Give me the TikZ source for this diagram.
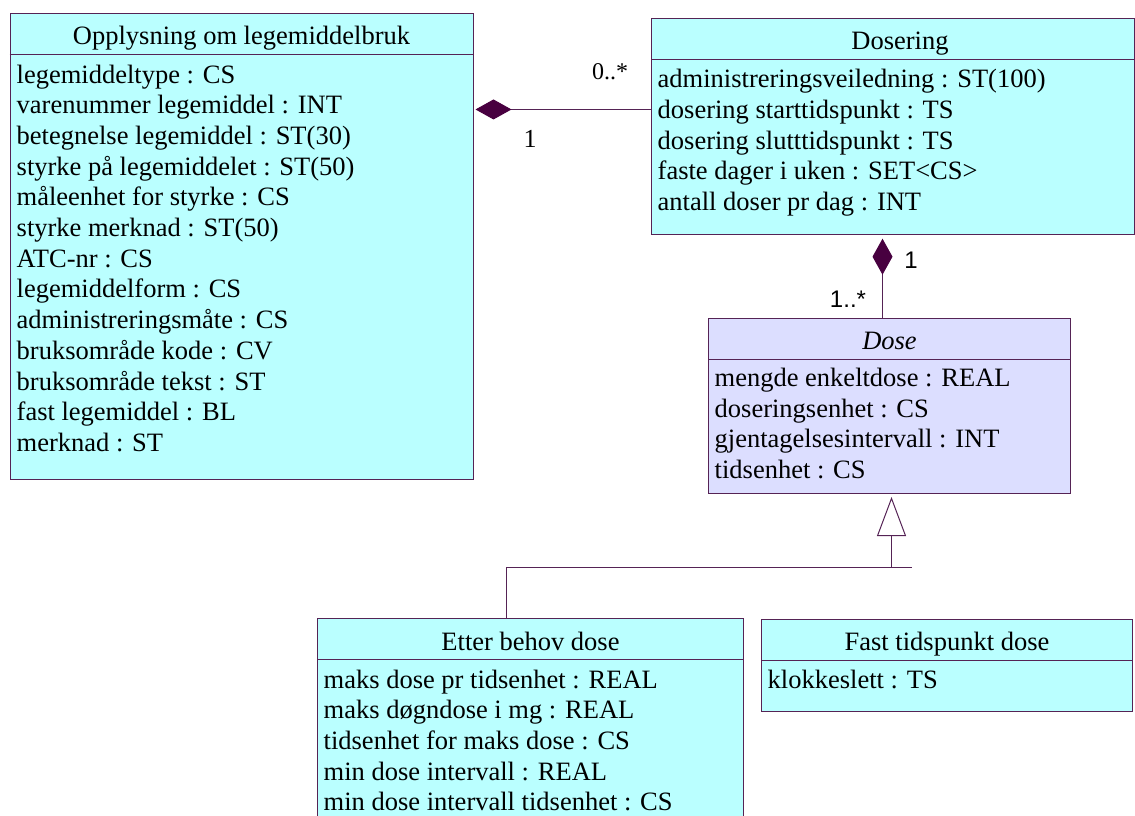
\documentclass[tikz,border=0pt]{standalone}
\usepackage{fontspec}
\setmainfont{Liberation Serif}
\newfontfamily\arialfont{Liberation Sans}
\usetikzlibrary{arrows.meta}
\definecolor{kant}{RGB}{85,35,85}
\definecolor{lysblaa}{RGB}{186,255,255}
\definecolor{lilla}{RGB}{220,222,255}
\definecolor{rombe}{RGB}{72,0,64}
\newcommand\umlfont{\fontsize{26.5}{30.7}\selectfont}

\tikzset{
  klasse/.style={draw=kant, fill=lysblaa, line width=1pt, inner sep=0pt, anchor=north west},
  tittel/.style={anchor=base, inner sep=0pt, font=\umlfont},
  attributter/.style={anchor=north west, align=left, inner sep=0pt, font=\umlfont},
  linje/.style={draw=kant, line width=1pt},
  komp/.style={linje, -{Diamond[length=36pt, width=20pt, color=rombe, fill=rombe]}},
  arv/.style={linje, -{Triangle[length=39pt, width=29pt, fill=white]}},
  mult/.style={anchor=base, inner sep=0pt},
}

\begin{document}
\begin{tikzpicture}[x=1pt,y=-1pt]
\useasboundingbox (0,0) rectangle (1135,816);
\clip (0,0) rectangle (1135,816);

% klasser
\node[klasse, minimum width=463pt, minimum height=466pt] (opp) at (9.5,13) {};
\node[klasse, minimum width=483pt, minimum height=216.5pt] (dos) at (651,17.7) {};
\node[klasse, fill=lilla, minimum width=362pt, minimum height=175pt] (dose) at (708,318) {};
\node[klasse, minimum width=426pt, minimum height=220pt] (etter) at (317,618) {};
\node[klasse, minimum width=371pt, minimum height=92pt] (fast) at (761,619) {};
\foreach \k in {opp,dos,dose,etter,fast}
  \draw[linje] ([yshift=-41.5pt]\k.north west) -- ([yshift=-41.5pt]\k.north east);

\node[tittel] (opptittel) at ([yshift=-32pt]opp.north) {Opplysning om legemiddelbruk};
\node[attributter] (oppattr) at ([xshift=7pt,yshift=-51.5pt]opp.north west) {legemiddeltype : CS\\
varenummer legemiddel : INT\\
betegnelse legemiddel : ST(30)\\
styrke på legemiddelet : ST(50)\\
måleenhet for styrke : CS\\
styrke merknad : ST(50)\\
ATC-nr : CS\\
legemiddelform : CS\\
administreringsmåte : CS\\
bruksområde kode : CV\\
bruksområde tekst : ST\\
fast legemiddel : BL\\
merknad : ST};

\node[tittel] (dostittel) at ([xshift=7pt,yshift=-31.5pt]dos.north) {Dosering};
\node[attributter] (dosattr) at ([xshift=6.5pt,yshift=-51.5pt]dos.north west) {administreringsveiledning : ST(100)\\
dosering starttidspunkt : TS\\
dosering slutttidspunkt : TS\\
faste dager i uken : SET<CS>\\
antall doser pr dag : INT};

\node[tittel] (dosetittel) at ([yshift=-31pt]dose.north) {\itshape Dose};
\node[attributter] (doseattr) at ([xshift=6.5pt,yshift=-50pt]dose.north west) {mengde enkeltdose : REAL\\
doseringsenhet : CS\\
gjentagelsesintervall : INT\\
tidsenhet : CS};

\node[tittel] (ettertittel) at ([yshift=-32pt]etter.north) {Etter behov dose};
\node[attributter] (etterattr) at ([xshift=6.5pt,yshift=-51.5pt]etter.north west) {maks dose pr tidsenhet : REAL\\
maks døgndose i mg : REAL\\
tidsenhet for maks dose : CS\\
min dose intervall : REAL\\
min dose intervall tidsenhet : CS};

\node[tittel] (fasttittel) at ([yshift=-31pt]fast.north) {Fast tidspunkt dose};
\node[attributter] (fastattr) at ([xshift=6.5pt,yshift=-51pt]fast.north west) {klokkeslett : TS};

% assosiasjoner
\draw[komp, shorten >=2pt] ([yshift=17pt]dos.west) -- ([yshift=17pt]dos.west -| opp.east);
\node[mult, font=\fontsize{24}{24}\selectfont] (dosmult) at (610,80) {0..*};
\node[mult, font=\fontsize{26}{26}\selectfont] (oppmult) at (530,147) {1};

\draw[komp, shorten >=3.5pt] ([xshift=-7pt]dose.north) -- ([xshift=-7pt]dose.north |- dos.south);
\node[mult, font=\arialfont\fontsize{24}{24}\selectfont] (dosmult2) at (911,268) {1};
\node[mult, font=\arialfont\fontsize{24}{24}\selectfont] (dosemult) at (848,307) {1..*};

% arv
\coordinate (gren) at (912,567);
\draw[linje] ([xshift=-24pt]etter.north) |- (gren);
\draw[arv, shorten >=3pt] ([xshift=2pt]dose.south |- gren) -- ([xshift=2pt]dose.south);
\end{tikzpicture}
\end{document}
